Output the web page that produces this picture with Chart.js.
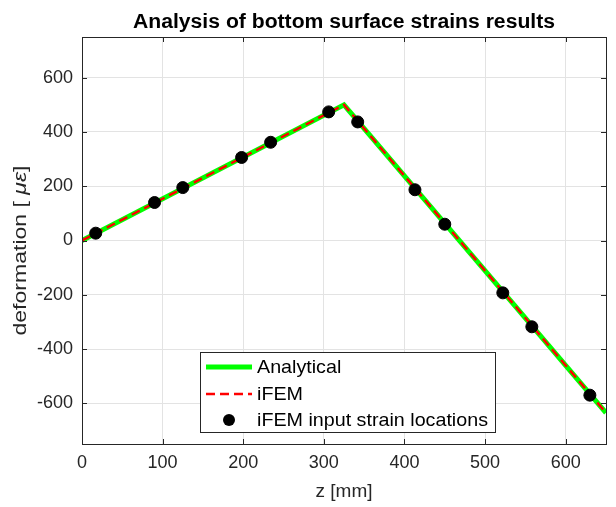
<!DOCTYPE html>
<html>
<head>
<meta charset="utf-8">
<script src="https://cdn.jsdelivr.net/npm/chart.js@4/dist/chart.umd.min.js"></script>
<style>
  html, body { margin: 0; padding: 0; background: #fff; }
  #wrap { width: 616px; height: 507px; }
</style>
</head>
<body>
<div id="wrap"><canvas id="strain-chart" width="616" height="507"></canvas></div>
<script>
// analytical and iFEM lines (z in mm, strain in micro strain)
const zLine = [0, 325, 650];
const analytical = [0, 500, -635];
const ifem = [0, 500, -635];

// iFEM input strain locations
const zInput = [17, 90, 125, 198, 234, 306, 342, 413, 450, 522, 558, 630];
const strainInput = [27, 140, 195, 306, 362, 474, 437, 187, 60, -193, -318, -570];

const legendLabels = ['Analytical', 'iFEM', 'iFEM input strain locations'];
const titleText = 'Analysis of bottom surface strains results';

const FONT = '"Liberation Sans", Arial, sans-serif';
const AXIS_COLOR = '#262626';

function toPoints(xs, ys){
  return xs.map((x, i) => ({ x: x, y: ys[i] }));
}

// draw text stretched horizontally so it takes a given width
function stretchText(ctx, text, x, y, width){
  const w = ctx.measureText(text).width;
  ctx.save();
  ctx.translate(x, y);
  ctx.scale(width / w, 1);
  ctx.fillText(text, 0, 0);
  ctx.restore();
}

// box around the plot + small inside ticks + title + legend + y title
const matlabLook = {
  id: 'matlabLook',
  afterDraw(chart){
    const ctx = chart.ctx;
    const a = chart.chartArea;
    const xs = chart.scales.x, ys = chart.scales.y;
    ctx.save();
    ctx.strokeStyle = AXIS_COLOR;
    ctx.lineWidth = 1;
    ctx.strokeRect(Math.round(a.left) + 0.5, Math.round(a.top) + 0.5,
                   Math.round(a.right - a.left), Math.round(a.bottom - a.top));
    // inside ticks
    ctx.beginPath();
    xs.ticks.forEach(t => {
      const px = Math.round(xs.getPixelForValue(t.value)) + 0.5;
      ctx.moveTo(px, a.bottom); ctx.lineTo(px, a.bottom - 5);
      ctx.moveTo(px, a.top); ctx.lineTo(px, a.top + 5);
    });
    ys.ticks.forEach(t => {
      const py = Math.round(ys.getPixelForValue(t.value)) + 0.5;
      ctx.moveTo(a.left, py); ctx.lineTo(a.left + 5, py);
      ctx.moveTo(a.right, py); ctx.lineTo(a.right - 5, py);
    });
    ctx.stroke();

    // title
    ctx.fillStyle = '#000';
    ctx.font = 'bold 20px ' + FONT;
    ctx.textBaseline = 'alphabetic';
    ctx.textAlign = 'left';
    stretchText(ctx, titleText, 133, 28, 422);

    // y axis title with italic greek letters
    ctx.fillStyle = AXIS_COLOR;
    ctx.translate(21, (a.top + a.bottom) / 2 + 10);
    ctx.rotate(-Math.PI / 2);
    ctx.textBaseline = 'middle';
    const parts = [['deformation [ ', 'normal'], ['\u03bc\u03b5', 'italic'], [']', 'normal']];
    let total = 0;
    parts.forEach(p => { ctx.font = p[1] + ' 19px ' + FONT; total += ctx.measureText(p[0]).width; });
    const sx = 170 / total;
    ctx.scale(sx, 1);
    let cx = -total / 2;
    parts.forEach(p => {
      ctx.font = p[1] + ' 19px ' + FONT;
      ctx.fillText(p[0], cx, 0);
      cx += ctx.measureText(p[0]).width;
    });
    ctx.setTransform(1, 0, 0, 1, 0, 0);

    // legend
    const lx = 200, ly = 352, lw = 295, lh = 80;
    ctx.fillStyle = '#fff';
    ctx.fillRect(lx, ly, lw, lh);
    ctx.strokeStyle = '#262626';
    ctx.lineWidth = 1;
    ctx.strokeRect(lx + 0.5, ly + 0.5, lw, lh);
    const ds = chart.data.datasets;
    const rowY = [367, 394, 420];
    ctx.font = '19px ' + FONT;
    ctx.textBaseline = 'middle';
    const legendScale = 231 / ctx.measureText(legendLabels[2]).width;
    ds.forEach((d, i) => {
      const y = rowY[i];
      if (d.showLine){
        ctx.strokeStyle = d.borderColor;
        ctx.lineWidth = d.borderWidth;
        ctx.setLineDash(d.borderDash || []);
        ctx.beginPath();
        ctx.moveTo(206, y); ctx.lineTo(252, y);
        ctx.stroke();
        ctx.setLineDash([]);
      } else {
        ctx.fillStyle = d.backgroundColor;
        ctx.beginPath();
        ctx.arc(229, y, d.pointRadius, 0, Math.PI * 2);
        ctx.fill();
      }
      ctx.fillStyle = '#000';
      const w = ctx.measureText(legendLabels[i]).width * legendScale;
      stretchText(ctx, legendLabels[i], 257, y + 1, w);
    });
    ctx.restore();
  }
};

const ctx = document.getElementById('strain-chart').getContext('2d');
const myChart = new Chart(ctx, {
  type: 'scatter',
  data: {
    datasets: [
      {
        label: legendLabels[0],
        data: toPoints(zLine, analytical),
        showLine: true,
        borderColor: 'rgb(0, 255, 0)',
        borderWidth: 5,
        pointRadius: 0,
        order: 3
      },
      {
        label: legendLabels[1],
        data: toPoints(zLine, ifem),
        showLine: true,
        borderColor: 'rgb(255, 0, 0)',
        borderWidth: 2.5,
        borderDash: [9, 5],
        pointRadius: 0,
        order: 2
      },
      {
        label: legendLabels[2],
        data: toPoints(zInput, strainInput),
        showLine: false,
        backgroundColor: '#000',
        borderColor: '#000',
        pointRadius: 6,
        order: 1
      }
    ]
  },
  options: {
    responsive: false,
    animation: false,
    layout: { padding: { left: 0, right: 10, top: 37, bottom: 0 } },
    plugins: {
      legend: { display: false },
      tooltip: { enabled: false },
      title: { display: false }
    },
    scales: {
      x: {
        type: 'linear',
        min: 0,
        max: 650,
        ticks: {
          stepSize: 100,
          color: AXIS_COLOR,
          font: { family: FONT, size: 18 },
          padding: 8,
          maxRotation: 0
        },
        afterBuildTicks: axis => {
          axis.ticks = [0, 100, 200, 300, 400, 500, 600].map(v => ({ value: v }));
        },
        afterFit: axis => { axis.height = 63; },
        grid: { color: '#e3e3e3', drawTicks: false },
        border: { display: false },
        title: {
          display: true,
          text: 'z [mm]',
          color: AXIS_COLOR,
          font: { family: FONT, size: 19 },
          padding: { top: 3 }
        }
      },
      y: {
        type: 'linear',
        min: -750,
        max: 750,
        ticks: {
          stepSize: 200,
          color: AXIS_COLOR,
          font: { family: FONT, size: 18 },
          padding: 9
        },
        afterBuildTicks: axis => {
          axis.ticks = [-600, -400, -200, 0, 200, 400, 600].map(v => ({ value: v }));
        },
        afterFit: axis => { axis.width = 82; },
        grid: { color: '#e3e3e3', drawTicks: false },
        border: { display: false }
      }
    }
  },
  plugins: [matlabLook]
});
</script>
</body>
</html>
